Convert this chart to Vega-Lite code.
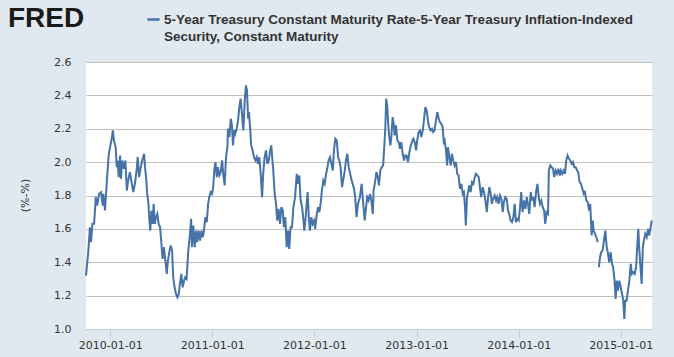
{
  "$schema": "https://vega.github.io/schema/vega-lite/v6.json",
  "width": 566,
  "height": 267,
  "autosize": {"type": "none"},
  "padding": {"left": 86, "top": 62, "right": 22, "bottom": 28},
  "background": "#e1e9f0",
  "title": {"text": "FRED", "anchor": "start", "frame": "group", "font": "Liberation Sans", "fontSize": 28, "fontWeight": "bold", "color": "#1a1a1a", "dx": -78, "offset": -43, "baseline": "alphabetic"},
  "config": {
    "view": {"fill": "white", "stroke": null},
    "style": {"guide-label": {"lineHeight": 17}}
  },
  "data": {"values": [
{"d":"2009-10-06","v":1.32},{"d":"2009-10-14","v":1.46},{"d":"2009-10-20","v":1.61},{"d":"2009-10-24","v":1.52},{"d":"2009-10-29","v":1.63},
{"d":"2009-11-04","v":1.63},{"d":"2009-11-10","v":1.79},{"d":"2009-11-15","v":1.74},{"d":"2009-11-22","v":1.81},{"d":"2009-11-29","v":1.82},
{"d":"2009-12-05","v":1.74},{"d":"2009-12-07","v":1.81},{"d":"2009-12-13","v":1.71},{"d":"2009-12-19","v":1.87},{"d":"2009-12-26","v":2.04},
{"d":"2009-12-31","v":2.09},{"d":"2010-01-06","v":2.14},{"d":"2010-01-10","v":2.19},{"d":"2010-01-14","v":2.13},{"d":"2010-01-20","v":2.09},
{"d":"2010-01-24","v":1.97},{"d":"2010-01-27","v":2.01},{"d":"2010-01-31","v":1.91},{"d":"2010-02-05","v":2.04},{"d":"2010-02-08","v":1.90},
{"d":"2010-02-13","v":2.01},{"d":"2010-02-19","v":1.96},{"d":"2010-02-24","v":2.01},{"d":"2010-03-01","v":1.83},{"d":"2010-03-06","v":1.89},
{"d":"2010-03-12","v":1.94},{"d":"2010-03-19","v":1.87},{"d":"2010-03-24","v":1.82},{"d":"2010-03-30","v":1.87},{"d":"2010-04-05","v":1.95},
{"d":"2010-04-09","v":2.03},{"d":"2010-04-14","v":1.91},{"d":"2010-04-20","v":1.97},{"d":"2010-04-25","v":2.01},{"d":"2010-05-02","v":2.05},
{"d":"2010-05-05","v":1.97},{"d":"2010-05-09","v":1.91},{"d":"2010-05-13","v":1.81},{"d":"2010-05-17","v":1.76},{"d":"2010-05-20","v":1.67},
{"d":"2010-05-24","v":1.59},{"d":"2010-05-28","v":1.71},{"d":"2010-06-02","v":1.63},{"d":"2010-06-05","v":1.75},{"d":"2010-06-09","v":1.63},
{"d":"2010-06-13","v":1.67},{"d":"2010-06-18","v":1.69},{"d":"2010-06-23","v":1.63},{"d":"2010-06-28","v":1.61},{"d":"2010-07-02","v":1.53},
{"d":"2010-07-07","v":1.42},{"d":"2010-07-12","v":1.49},{"d":"2010-07-17","v":1.41},{"d":"2010-07-22","v":1.33},{"d":"2010-07-26","v":1.41},
{"d":"2010-07-31","v":1.46},{"d":"2010-08-05","v":1.50},{"d":"2010-08-10","v":1.47},{"d":"2010-08-14","v":1.31},{"d":"2010-08-19","v":1.25},
{"d":"2010-08-24","v":1.21},{"d":"2010-08-29","v":1.19},{"d":"2010-09-03","v":1.21},{"d":"2010-09-07","v":1.27},{"d":"2010-09-12","v":1.33},
{"d":"2010-09-17","v":1.25},{"d":"2010-09-22","v":1.29},{"d":"2010-09-26","v":1.31},{"d":"2010-10-01","v":1.30},{"d":"2010-10-07","v":1.47},
{"d":"2010-10-13","v":1.57},{"d":"2010-10-17","v":1.66},{"d":"2010-10-20","v":1.49},{"d":"2010-10-25","v":1.62},{"d":"2010-10-30","v":1.49},
{"d":"2010-11-04","v":1.59},{"d":"2010-11-08","v":1.52},{"d":"2010-11-13","v":1.59},{"d":"2010-11-18","v":1.53},{"d":"2010-11-23","v":1.59},
{"d":"2010-11-28","v":1.55},{"d":"2010-12-02","v":1.59},{"d":"2010-12-07","v":1.67},{"d":"2010-12-12","v":1.64},{"d":"2010-12-17","v":1.75},
{"d":"2010-12-21","v":1.79},{"d":"2010-12-26","v":1.82},{"d":"2010-12-31","v":1.81},{"d":"2011-01-04","v":1.85},{"d":"2011-01-08","v":1.95},
{"d":"2011-01-12","v":2.00},{"d":"2011-01-17","v":1.91},{"d":"2011-01-21","v":1.97},{"d":"2011-01-26","v":1.92},{"d":"2011-01-31","v":1.94},
{"d":"2011-02-05","v":2.01},{"d":"2011-02-09","v":1.93},{"d":"2011-02-14","v":1.86},{"d":"2011-02-19","v":2.03},{"d":"2011-02-24","v":2.09},
{"d":"2011-02-26","v":2.20},{"d":"2011-03-03","v":2.15},{"d":"2011-03-08","v":2.26},{"d":"2011-03-12","v":2.22},{"d":"2011-03-16","v":2.10},
{"d":"2011-03-20","v":2.19},{"d":"2011-03-24","v":2.17},{"d":"2011-03-29","v":2.20},{"d":"2011-04-03","v":2.25},{"d":"2011-04-07","v":2.32},
{"d":"2011-04-12","v":2.38},{"d":"2011-04-17","v":2.29},{"d":"2011-04-22","v":2.19},{"d":"2011-04-27","v":2.37},{"d":"2011-05-01","v":2.46},
{"d":"2011-05-05","v":2.43},{"d":"2011-05-09","v":2.26},{"d":"2011-05-12","v":2.30},{"d":"2011-05-16","v":2.21},{"d":"2011-05-20","v":2.10},
{"d":"2011-05-25","v":2.07},{"d":"2011-05-30","v":2.03},{"d":"2011-06-04","v":2.01},{"d":"2011-06-09","v":2.03},{"d":"2011-06-13","v":1.99},
{"d":"2011-06-18","v":2.03},{"d":"2011-06-23","v":1.93},{"d":"2011-06-28","v":1.79},{"d":"2011-07-02","v":1.93},{"d":"2011-07-07","v":2.03},
{"d":"2011-07-12","v":2.07},{"d":"2011-07-17","v":1.99},{"d":"2011-07-22","v":2.01},{"d":"2011-07-26","v":2.06},{"d":"2011-07-31","v":2.10},
{"d":"2011-08-04","v":2.01},{"d":"2011-08-07","v":1.95},{"d":"2011-08-12","v":1.81},{"d":"2011-08-17","v":1.75},{"d":"2011-08-21","v":1.65},
{"d":"2011-08-26","v":1.72},{"d":"2011-08-31","v":1.63},{"d":"2011-09-05","v":1.73},{"d":"2011-09-10","v":1.71},{"d":"2011-09-14","v":1.61},
{"d":"2011-09-19","v":1.67},{"d":"2011-09-24","v":1.49},{"d":"2011-09-29","v":1.59},{"d":"2011-10-03","v":1.48},{"d":"2011-10-08","v":1.61},
{"d":"2011-10-13","v":1.61},{"d":"2011-10-18","v":1.73},{"d":"2011-10-24","v":1.79},{"d":"2011-10-30","v":1.93},{"d":"2011-11-03","v":1.87},
{"d":"2011-11-08","v":1.92},{"d":"2011-11-13","v":1.77},{"d":"2011-11-18","v":1.73},{"d":"2011-11-22","v":1.67},{"d":"2011-11-26","v":1.59},
{"d":"2011-11-30","v":1.65},{"d":"2011-12-05","v":1.76},{"d":"2011-12-08","v":1.82},{"d":"2011-12-12","v":1.67},{"d":"2011-12-16","v":1.59},
{"d":"2011-12-21","v":1.67},{"d":"2011-12-26","v":1.63},{"d":"2011-12-31","v":1.65},{"d":"2012-01-04","v":1.60},{"d":"2012-01-09","v":1.68},
{"d":"2012-01-14","v":1.73},{"d":"2012-01-19","v":1.70},{"d":"2012-01-24","v":1.76},{"d":"2012-01-28","v":1.83},{"d":"2012-02-02","v":1.89},
{"d":"2012-02-07","v":1.87},{"d":"2012-02-12","v":1.93},{"d":"2012-02-16","v":1.96},{"d":"2012-02-21","v":2.01},{"d":"2012-02-26","v":2.03},
{"d":"2012-03-02","v":1.99},{"d":"2012-03-07","v":1.95},{"d":"2012-03-11","v":2.07},{"d":"2012-03-16","v":2.14},{"d":"2012-03-21","v":2.13},
{"d":"2012-03-26","v":2.03},{"d":"2012-03-30","v":2.01},{"d":"2012-04-04","v":1.97},{"d":"2012-04-09","v":1.85},{"d":"2012-04-14","v":1.90},
{"d":"2012-04-19","v":1.95},{"d":"2012-04-23","v":2.01},{"d":"2012-04-28","v":2.05},{"d":"2012-05-03","v":1.97},{"d":"2012-05-08","v":1.93},
{"d":"2012-05-12","v":1.90},{"d":"2012-05-17","v":1.87},{"d":"2012-05-22","v":1.84},{"d":"2012-05-26","v":1.79},{"d":"2012-05-31","v":1.67},
{"d":"2012-06-05","v":1.75},{"d":"2012-06-12","v":1.79},{"d":"2012-06-18","v":1.87},{"d":"2012-06-24","v":1.75},{"d":"2012-06-29","v":1.65},
{"d":"2012-07-04","v":1.73},{"d":"2012-07-08","v":1.79},{"d":"2012-07-13","v":1.77},{"d":"2012-07-18","v":1.81},{"d":"2012-07-23","v":1.77},
{"d":"2012-07-28","v":1.69},{"d":"2012-07-31","v":1.83},{"d":"2012-08-05","v":1.88},{"d":"2012-08-10","v":1.94},{"d":"2012-08-15","v":1.91},
{"d":"2012-08-19","v":1.86},{"d":"2012-08-24","v":1.95},{"d":"2012-08-29","v":1.97},{"d":"2012-09-03","v":1.98},{"d":"2012-09-07","v":2.09},
{"d":"2012-09-11","v":2.21},{"d":"2012-09-14","v":2.38},{"d":"2012-09-18","v":2.33},{"d":"2012-09-22","v":2.21},{"d":"2012-09-25","v":2.15},
{"d":"2012-09-29","v":2.10},{"d":"2012-10-02","v":2.14},{"d":"2012-10-07","v":2.27},{"d":"2012-10-11","v":2.23},{"d":"2012-10-14","v":2.16},
{"d":"2012-10-19","v":2.22},{"d":"2012-10-24","v":2.13},{"d":"2012-10-29","v":2.12},{"d":"2012-11-02","v":2.08},{"d":"2012-11-07","v":2.12},
{"d":"2012-11-12","v":2.05},{"d":"2012-11-17","v":2.01},{"d":"2012-11-21","v":2.04},{"d":"2012-11-26","v":2.04},{"d":"2012-12-01","v":2.00},
{"d":"2012-12-06","v":2.06},{"d":"2012-12-11","v":2.10},{"d":"2012-12-15","v":2.12},{"d":"2012-12-20","v":2.14},{"d":"2012-12-25","v":2.12},
{"d":"2012-12-30","v":2.07},{"d":"2013-01-03","v":2.13},{"d":"2013-01-08","v":2.18},{"d":"2013-01-13","v":2.19},{"d":"2013-01-18","v":2.15},
{"d":"2013-01-23","v":2.19},{"d":"2013-01-27","v":2.25},{"d":"2013-02-01","v":2.33},{"d":"2013-02-06","v":2.31},{"d":"2013-02-11","v":2.24},
{"d":"2013-02-15","v":2.21},{"d":"2013-02-20","v":2.19},{"d":"2013-02-25","v":2.20},{"d":"2013-03-01","v":2.18},{"d":"2013-03-06","v":2.19},
{"d":"2013-03-11","v":2.25},{"d":"2013-03-16","v":2.30},{"d":"2013-03-21","v":2.26},{"d":"2013-03-25","v":2.24},{"d":"2013-03-30","v":2.23},
{"d":"2013-04-04","v":2.21},{"d":"2013-04-08","v":2.12},{"d":"2013-04-11","v":2.13},{"d":"2013-04-16","v":2.07},{"d":"2013-04-20","v":1.98},
{"d":"2013-04-23","v":2.09},{"d":"2013-04-28","v":2.03},{"d":"2013-05-03","v":1.98},{"d":"2013-05-07","v":2.05},{"d":"2013-05-12","v":2.01},
{"d":"2013-05-17","v":1.98},{"d":"2013-05-22","v":2.00},{"d":"2013-05-26","v":1.93},{"d":"2013-05-31","v":1.92},{"d":"2013-06-05","v":1.84},
{"d":"2013-06-10","v":1.87},{"d":"2013-06-15","v":1.81},{"d":"2013-06-19","v":1.82},{"d":"2013-06-23","v":1.73},{"d":"2013-06-26","v":1.62},
{"d":"2013-06-30","v":1.79},{"d":"2013-07-04","v":1.82},{"d":"2013-07-08","v":1.86},{"d":"2013-07-13","v":1.82},{"d":"2013-07-18","v":1.88},
{"d":"2013-07-23","v":1.87},{"d":"2013-07-28","v":1.91},{"d":"2013-08-01","v":1.93},{"d":"2013-08-06","v":1.92},{"d":"2013-08-11","v":1.91},
{"d":"2013-08-16","v":1.84},{"d":"2013-08-20","v":1.79},{"d":"2013-08-25","v":1.85},{"d":"2013-08-30","v":1.82},{"d":"2013-09-04","v":1.77},
{"d":"2013-09-09","v":1.70},{"d":"2013-09-13","v":1.78},{"d":"2013-09-18","v":1.85},{"d":"2013-09-23","v":1.81},{"d":"2013-09-27","v":1.75},
{"d":"2013-10-02","v":1.78},{"d":"2013-10-07","v":1.80},{"d":"2013-10-12","v":1.77},{"d":"2013-10-16","v":1.79},{"d":"2013-10-21","v":1.75},
{"d":"2013-10-26","v":1.80},{"d":"2013-10-31","v":1.78},{"d":"2013-11-05","v":1.70},{"d":"2013-11-09","v":1.76},{"d":"2013-11-14","v":1.79},
{"d":"2013-11-19","v":1.78},{"d":"2013-11-24","v":1.71},{"d":"2013-11-28","v":1.69},{"d":"2013-12-03","v":1.65},{"d":"2013-12-08","v":1.64},
{"d":"2013-12-13","v":1.67},{"d":"2013-12-18","v":1.75},{"d":"2013-12-22","v":1.64},{"d":"2013-12-27","v":1.66},{"d":"2014-01-01","v":1.65},
{"d":"2014-01-06","v":1.73},{"d":"2014-01-10","v":1.82},{"d":"2014-01-15","v":1.70},{"d":"2014-01-20","v":1.77},{"d":"2014-01-25","v":1.72},
{"d":"2014-01-30","v":1.79},{"d":"2014-02-03","v":1.75},{"d":"2014-02-08","v":1.69},{"d":"2014-02-13","v":1.82},{"d":"2014-02-18","v":1.77},
{"d":"2014-02-22","v":1.79},{"d":"2014-02-27","v":1.73},{"d":"2014-03-04","v":1.82},{"d":"2014-03-09","v":1.87},{"d":"2014-03-14","v":1.79},
{"d":"2014-03-18","v":1.75},{"d":"2014-03-23","v":1.77},{"d":"2014-03-28","v":1.73},{"d":"2014-04-02","v":1.71},{"d":"2014-04-06","v":1.63},
{"d":"2014-04-11","v":1.70},{"d":"2014-04-16","v":1.69},{"d":"2014-04-19","v":1.95},{"d":"2014-04-24","v":1.98},{"d":"2014-04-29","v":1.97},
{"d":"2014-05-04","v":1.96},{"d":"2014-05-08","v":1.91},{"d":"2014-05-13","v":1.95},{"d":"2014-05-18","v":1.93},{"d":"2014-05-23","v":1.96},
{"d":"2014-05-28","v":1.92},{"d":"2014-06-01","v":1.95},{"d":"2014-06-06","v":1.93},{"d":"2014-06-11","v":1.95},{"d":"2014-06-16","v":1.93},
{"d":"2014-06-20","v":2.01},{"d":"2014-06-25","v":2.04},{"d":"2014-06-30","v":2.02},{"d":"2014-07-05","v":2.01},{"d":"2014-07-10","v":1.99},
{"d":"2014-07-14","v":2.00},{"d":"2014-07-19","v":1.97},{"d":"2014-07-24","v":1.97},{"d":"2014-07-29","v":1.95},{"d":"2014-08-02","v":1.94},
{"d":"2014-08-07","v":1.88},{"d":"2014-08-12","v":1.87},{"d":"2014-08-17","v":1.84},{"d":"2014-08-22","v":1.81},{"d":"2014-08-26","v":1.82},
{"d":"2014-08-31","v":1.77},{"d":"2014-09-05","v":1.76},{"d":"2014-09-10","v":1.71},{"d":"2014-09-14","v":1.75},{"d":"2014-09-19","v":1.56},
{"d":"2014-09-23","v":1.65},{"d":"2014-09-26","v":1.59},{"d":"2014-10-01","v":1.57},{"d":"2014-10-06","v":1.55},{"d":"2014-10-11","v":1.52},
{"d":"2014-10-13","v":null},{"d":"2014-10-15","v":1.37},{"d":"2014-10-19","v":1.43},{"d":"2014-10-23","v":1.46},{"d":"2014-10-28","v":1.47},
{"d":"2014-11-02","v":1.53},{"d":"2014-11-07","v":1.59},{"d":"2014-11-12","v":1.49},{"d":"2014-11-16","v":1.46},{"d":"2014-11-21","v":1.40},
{"d":"2014-11-26","v":1.46},{"d":"2014-12-01","v":1.39},{"d":"2014-12-05","v":1.37},{"d":"2014-12-10","v":1.29},{"d":"2014-12-14","v":1.18},
{"d":"2014-12-18","v":1.29},{"d":"2014-12-22","v":1.23},{"d":"2014-12-27","v":1.29},{"d":"2015-01-01","v":1.25},{"d":"2015-01-06","v":1.21},
{"d":"2015-01-10","v":1.17},{"d":"2015-01-14","v":1.06},{"d":"2015-01-17","v":1.17},{"d":"2015-01-22","v":1.17},{"d":"2015-01-27","v":1.23},
{"d":"2015-02-01","v":1.29},{"d":"2015-02-06","v":1.39},{"d":"2015-02-10","v":1.33},{"d":"2015-02-15","v":1.34},{"d":"2015-02-20","v":1.33},
{"d":"2015-02-25","v":1.37},{"d":"2015-03-01","v":1.49},{"d":"2015-03-05","v":1.60},{"d":"2015-03-08","v":1.49},{"d":"2015-03-12","v":1.39},
{"d":"2015-03-17","v":1.27},{"d":"2015-03-21","v":1.49},{"d":"2015-03-25","v":1.53},{"d":"2015-03-30","v":1.57},{"d":"2015-04-04","v":1.55},
{"d":"2015-04-09","v":1.60},{"d":"2015-04-13","v":1.56},{"d":"2015-04-18","v":1.61},{"d":"2015-04-22","v":1.65}
  ]},
  "mark": {"type": "line", "strokeWidth": 2, "interpolate": "linear"},
  "encoding": {
    "x": {
      "field": "d", "type": "temporal",
      "scale": {"type": "utc", "domain": [{"year": 2009, "month": 10, "date": 6, "utc": true}, {"year": 2015, "month": 4, "date": 23, "utc": true}]},
      "axis": {
        "title": null,
        "values": [
          {"year": 2010, "month": 1, "date": 1, "utc": true},
          {"year": 2011, "month": 1, "date": 1, "utc": true},
          {"year": 2012, "month": 1, "date": 1, "utc": true},
          {"year": 2013, "month": 1, "date": 1, "utc": true},
          {"year": 2014, "month": 1, "date": 1, "utc": true},
          {"year": 2015, "month": 1, "date": 1, "utc": true}
        ],
        "labelExpr": "utcFormat(datum.value, '%Y-%m-%d')",
        "grid": false,
        "domainColor": "#c0d0e0", "tickColor": "#c0d0e0", "tickSize": 8,
        "labelFont": "DejaVu Sans", "labelFontSize": 11, "labelColor": "#333333", "labelPadding": 2
      }
    },
    "y": {
      "field": "v", "type": "quantitative",
      "scale": {"domain": [1.0, 2.6], "nice": false, "zero": false},
      "axis": {
        "title": "(%-%)",
        "titleFont": "DejaVu Sans", "titleFontSize": 11, "titleFontWeight": "normal", "titleColor": "#333333",
        "titleX": -61, "titleY": 133, "titleBaseline": "middle", "titleAngle": -90,
        "values": [1.0, 1.2, 1.4, 1.6, 1.8, 2.0, 2.2, 2.4, 2.6],
        "format": ".1f",
        "domain": false, "ticks": false,
        "gridColor": "#c0c0c0", "gridWidth": 1,
        "labelFont": "DejaVu Sans", "labelFontSize": 11, "labelColor": "#333333", "labelPadding": 15
      }
    },
    "color": {
      "datum": "5-Year Treasury Constant Maturity Rate-5-Year Treasury Inflation-Indexed Security, Constant Maturity",
      "type": "nominal",
      "scale": {"range": ["#4572a7"]},
      "legend": {
        "orient": "none", "legendX": 60, "legendY": -50,
        "title": null, "padding": 0,
        "symbolType": "stroke", "symbolStrokeWidth": 2.5, "symbolSize": 150,
        "labelFont": "Liberation Sans", "labelFontSize": 13.5, "labelFontWeight": "bold", "labelColor": "#333333",
        "labelLimit": 0, "labelOffset": 3, "labelBaseline": "middle",
        "labelExpr": "['5-Year Treasury Constant Maturity Rate-5-Year Treasury Inflation-Indexed', 'Security, Constant Maturity']"
      }
    }
  }
}
